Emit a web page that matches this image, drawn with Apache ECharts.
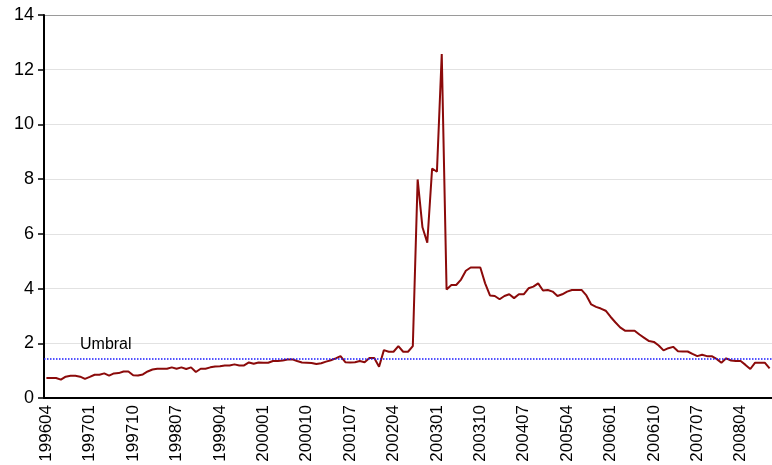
<!DOCTYPE html>
<html>
<head>
<meta charset="utf-8">
<script src="https://cdn.jsdelivr.net/npm/echarts@6/dist/echarts.min.js"></script>
<style>
  html, body { margin: 0; padding: 0; background: #fff; }
  #chart { width: 772px; height: 465px; }
</style>
</head>
<body>
<div id="chart"></div>
<script>
// monthly periods, 199604 .. 200810
const months = [];
for (let y = 1996, m = 4; y < 2008 || (y === 2008 && m <= 10); m++) {
  if (m > 12) { m = 1; y++; }
  months.push(String(y) + String(m).padStart(2, '0'));
}

const values = [
  0.73, 0.73, 0.73, 0.67, 0.78, 0.81, 0.81, 0.78, 0.70, 0.77,
  0.85, 0.85, 0.90, 0.82, 0.90, 0.91, 0.97, 0.97, 0.83, 0.82,
  0.86, 0.97, 1.04, 1.07, 1.07, 1.07, 1.12, 1.07, 1.12, 1.06,
  1.12, 0.95, 1.07, 1.07, 1.12, 1.15, 1.16, 1.19, 1.19, 1.23,
  1.19, 1.19, 1.30, 1.25, 1.30, 1.29, 1.29, 1.35, 1.35, 1.37,
  1.41, 1.41, 1.35, 1.30, 1.29, 1.28, 1.24, 1.27, 1.33, 1.38,
  1.45, 1.53, 1.31, 1.30, 1.31, 1.35, 1.31, 1.46, 1.46, 1.14,
  1.75, 1.69, 1.69, 1.90, 1.69, 1.69, 1.90, 7.99, 6.24, 5.68,
  8.39, 8.27, 12.57, 3.97, 4.13, 4.13, 4.33, 4.65, 4.77, 4.77,
  4.77, 4.19, 3.75, 3.73, 3.61, 3.73, 3.79, 3.65, 3.79, 3.79,
  4.01, 4.07, 4.19, 3.93, 3.95, 3.89, 3.73, 3.79, 3.89, 3.95,
  3.95, 3.95, 3.75, 3.42, 3.33, 3.27, 3.19, 2.97, 2.77, 2.58,
  2.46, 2.46, 2.46, 2.32, 2.20, 2.08, 2.05, 1.92, 1.74, 1.82,
  1.87, 1.71, 1.70, 1.70, 1.61, 1.53, 1.58, 1.53, 1.53, 1.43,
  1.29, 1.45, 1.37, 1.35, 1.35, 1.21, 1.06, 1.29, 1.29, 1.29, 1.08
];

const umbral = 1.45;
const umbralLabel = 'Umbral';

const font = 'Arial, "Liberation Sans", sans-serif';
const chart = echarts.init(document.getElementById('chart'));

chart.setOption({
  animation: false,
  grid: { left: 44, right: 0, top: 15, bottom: 67 },
  xAxis: {
    type: 'category',
    data: months,
    boundaryGap: true,
    axisLine: { lineStyle: { color: '#000', width: 2 } },
    axisTick: { show: false },
    axisLabel: {
      interval: 8,
      rotate: 90,
      margin: 7,
      color: '#000',
      fontSize: 17,
      fontFamily: font
    }
  },
  yAxis: {
    type: 'value',
    min: 0,
    max: 14,
    interval: 2,
    axisLine: { show: true, lineStyle: { color: '#000', width: 2 } },
    axisTick: { show: true, length: 6, lineStyle: { color: '#000', width: 1.5 } },
    axisLabel: { color: '#000', fontSize: 18, fontFamily: font, margin: 10 },
    splitLine: {
      lineStyle: {
        color: ['#e2e2e2', '#e2e2e2', '#e2e2e2', '#e2e2e2', '#e2e2e2', '#e2e2e2', '#e2e2e2', '#9a9a9a'],
        width: 1
      }
    }
  },
  series: [{
    type: 'line',
    data: values,
    symbol: 'none',
    lineStyle: { color: '#8b0a0a', width: 2 },
    markLine: {
      silent: true,
      symbol: 'none',
      data: [{ yAxis: umbral }],
      lineStyle: { color: '#1a1aff', type: 'dotted', width: 1.5 },
      label: {
        formatter: umbralLabel,
        position: 'insideStartTop',
        distance: [36, 6],
        color: '#000',
        fontSize: 16,
        fontFamily: font
      }
    }
  }]
});
</script>
</body>
</html>
